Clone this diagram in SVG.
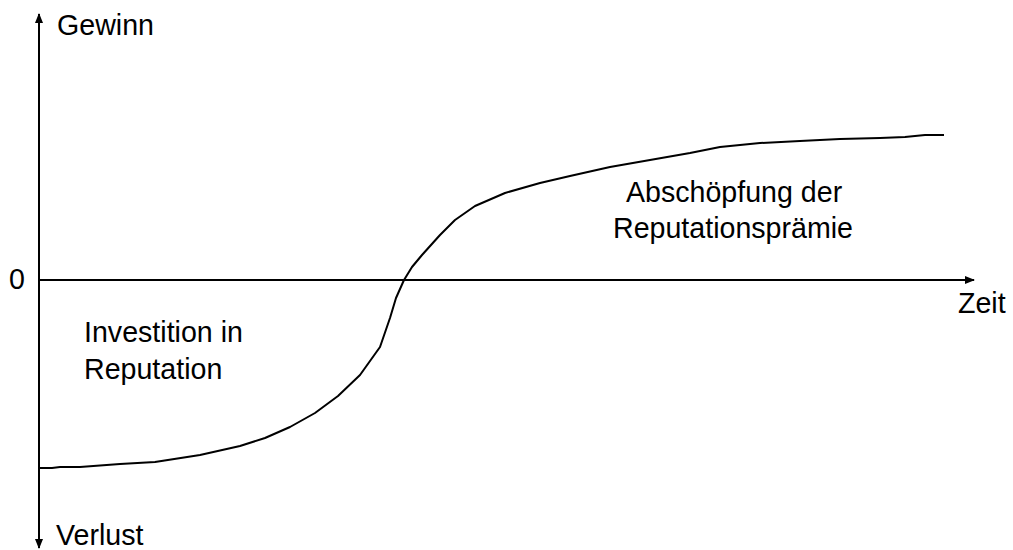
<svg xmlns="http://www.w3.org/2000/svg" width="1013" height="550" viewBox="0 0 1013 550">
<style>
text{font-family:"Liberation Sans",Arial,sans-serif;font-size:28.6px;fill:#000}
.ax{stroke:#000;stroke-width:2;fill:none}
.cv{stroke:#000;stroke-width:2;fill:none;stroke-linejoin:round}
</style>
<defs>
<marker id="ah" markerWidth="10" markerHeight="8" refX="9" refY="4" orient="auto" markerUnits="userSpaceOnUse">
<path d="M0,0 L10,4 L0,8 Z" fill="#000"/>
</marker>
</defs>
<g id="connectors">
<line class="ax" x1="39" y1="540" x2="39" y2="14" marker-end="url(#ah)"/>
<line class="ax" x1="39" y1="280" x2="39" y2="548" marker-end="url(#ah)"/>
<line class="ax" x1="39" y1="280" x2="974" y2="280" marker-end="url(#ah)"/>
<polyline id="curve" class="cv" points="39,468 52,468 60,467 80,467 120,464 155,462 200,455 240,446 265,438 290,427 315,413 338,396 360,375 380,347 390,318 396,298 404,280 412,267 422,255 440,235 455,220 475,206 505,193 540,183 570,176 610,167 650,160 690,153 720,147 760,143 800,141 840,139 880,138 905,137 925,135 944,135"/>
</g>
<g id="labels">
<text x="57" y="35">Gewinn</text>
<text x="56" y="545">Verlust</text>
<text x="9" y="289">0</text>
<text x="958" y="313">Zeit</text>
<text x="84" y="342">Investition in</text>
<text x="84" y="379">Reputation</text>
<text x="626" y="202">Abschöpfung der</text>
<text x="613" y="238">Reputationsprämie</text>
</g>
</svg>
